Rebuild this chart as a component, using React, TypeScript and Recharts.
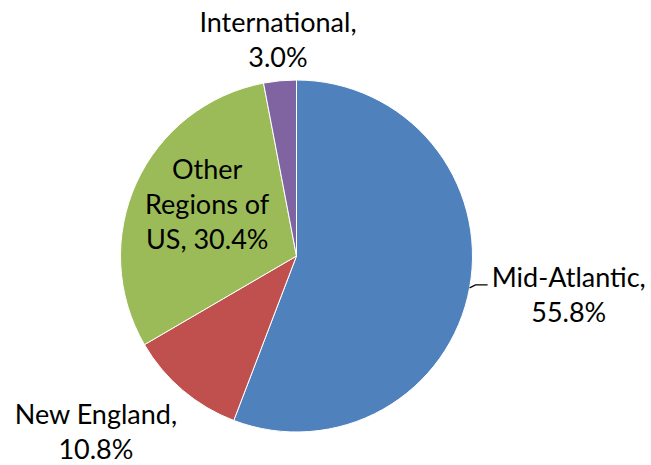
import React from "react";
import { PieChart, Pie, Cell } from "recharts";

const regions = ["Mid-Atlantic", "New England", "Other Regions of US", "International"];
const shares = [55.8, 10.8, 30.4, 3.0];
const colors = ["#4F81BD", "#C0504D", "#9BBB59", "#8064A2"];

// label text lines per slice
const labelLines = [
  ["Mid-Atlantic,", "55.8%"],
  ["New England,", "10.8%"],
  ["Other", "Regions of", "US, 30.4%"],
  ["International,", "3.0%"],
];
// where each label block sits, as angle shift (deg) and distance from centre
const labelPlace = [
  { shift: 2.3, dist: 275 },
  { shift: -8.5, dist: 266.5 },
  { shift: -5.4, dist: 103 },
  { shift: -0.5, dist: 217 },
];

const data = regions.map((name, i) => ({ name, value: shares[i] }));

const RAD = Math.PI / 180;
const FONT = "Lato, 'Open Sans', sans-serif";
const FONT_SIZE = 27;
const LINE_H = 35;

function renderLabel(props: any) {
  const { cx, cy, midAngle, index } = props;
  const p = labelPlace[index];
  const a = (midAngle + p.shift) * RAD;
  const x = cx + p.dist * Math.cos(a);
  const y = cy - p.dist * Math.sin(a);
  const lines = labelLines[index];
  // y of first line's cap-centre, then shift to baseline
  const top = y - ((lines.length - 1) * LINE_H) / 2 + FONT_SIZE * 0.36;
  return (
    <text
      key={"lbl" + index}
      x={x}
      textAnchor="middle"
      fontFamily={FONT}
      fontSize={FONT_SIZE}
      fill="#000"
    >
      {lines.map((t, k) => (
        <tspan key={k} x={x} y={top + k * LINE_H}>
          {t}
        </tspan>
      ))}
    </text>
  );
}

function renderLine(props: any) {
  const { cx, cy, midAngle, outerRadius, index } = props;
  if (index !== 0) return <g key={"ln" + index} />;
  const a = midAngle * RAD;
  const x0 = cx + outerRadius * Math.cos(a);
  const y0 = cy - outerRadius * Math.sin(a);
  const x1 = x0 + 6;
  const y1 = y0 - 3;
  const x2 = x1 + 12;
  return (
    <path
      key={"ln" + index}
      d={`M${x0},${y0} L${x1},${y1} L${x2},${y1}`}
      stroke="#000"
      fill="none"
      strokeWidth={1.2}
    />
  );
}

export default function App() {
  return (
    <div style={{ position: "absolute", left: 0, top: 0, background: "#fff" }}>
      <PieChart width={651} height={465} margin={{ top: 0, right: 0, bottom: 0, left: 0 }}>
        <Pie
          data={data}
          dataKey="value"
          nameKey="name"
          cx={296.5}
          cy={256}
          outerRadius={176}
          startAngle={90}
          endAngle={-270}
          stroke="#fff"
          strokeWidth={1}
          label={renderLabel}
          labelLine={renderLine}
          isAnimationActive={false}
        >
          {data.map((d, i) => (
            <Cell key={d.name} fill={colors[i]} />
          ))}
        </Pie>
      </PieChart>
    </div>
  );
}
